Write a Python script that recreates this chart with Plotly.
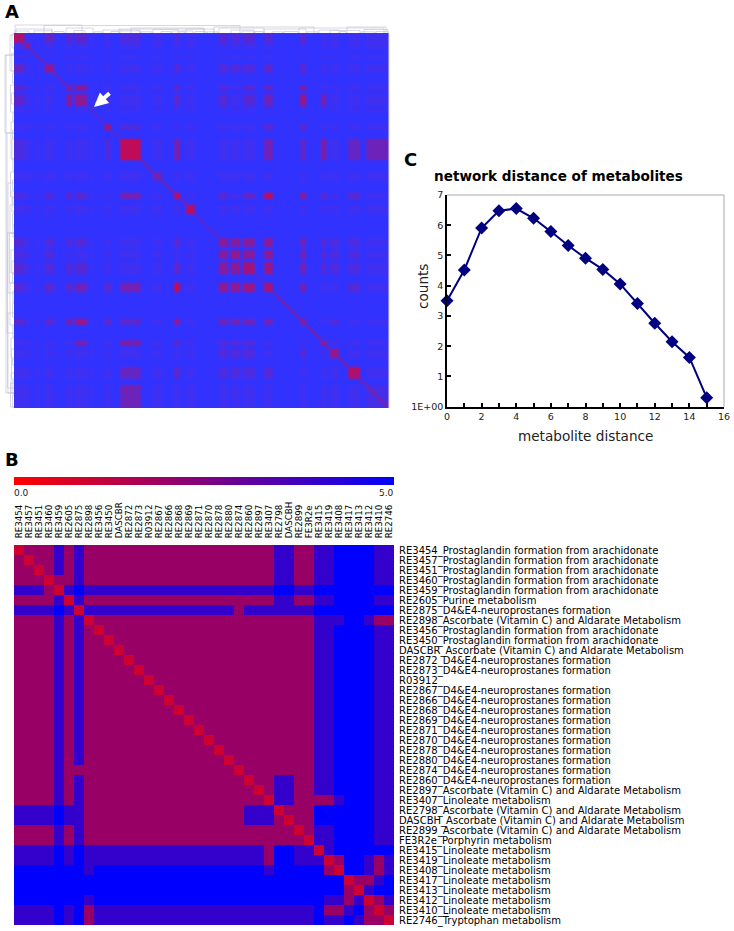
import plotly.graph_objects as go

W, H = 734, 931
FONT = "DejaVu Sans"

def fx(p): return p / W
def fy(p): return 1 - p / H

# ---------- Panel B ----------
b_names = ["RE3454","RE3457","RE3451","RE3460","RE3459","RE2605","RE2875","RE2898","RE3456","RE3450",
           "DASCBR","RE2872","RE2873","R03912","RE2867","RE2866","RE2868","RE2869","RE2871","RE2870",
           "RE2878","RE2880","RE2874","RE2860","RE2897","RE3407","RE2798","DASCBH","RE2899","FE3R2e",
           "RE3415","RE3419","RE3408","RE3417","RE3413","RE3412","RE3410","RE2746"]
PG = "Prostaglandin formation from arachidonate"
NP = "D4&E4-neuroprostanes formation"
AS = "Ascorbate (Vitamin C) and Aldarate Metabolism"
LI = "Linoleate metabolism"
b_pathways = [PG,PG,PG,PG,PG,"Purine metabolism",NP,AS,PG,PG,AS,NP,NP,"",NP,NP,NP,NP,NP,NP,NP,NP,NP,NP,
              AS,LI,AS,AS,AS,"Porphyrin metabolism",LI,LI,LI,LI,LI,LI,LI,"Tryptophan metabolism"]
# distance classes per cell; groups: 0-3 | 4 5 6 | 7-25 | 26-27 | 28-29 | 30-31 | 32-35 | 36-37
b_rows = [
 "1222 424 2222222222222222222 44 22 44 5555 44",
 "2122 424 2222222222222222222 44 22 44 5555 44",
 "2212 424 2222222222222222222 44 22 44 5555 44",
 "2221 224 2222222222222222222 44 22 44 5555 44",
 "4442 145 4444444444444444444 55 44 55 5555 55",
 "2222 414 2222222222222222222 44 22 44 5555 44",
 "4444 541 4444444444444442444 44 44 55 5555 55",
 "2222 424 1222222222222222222 22 22 44 4554 22",
 "2222 424 2122222222222222222 22 22 44 5555 44",
 "2222 424 2212222222222222222 22 22 44 5555 44",
 "2222 424 2221222222222222222 22 22 44 5555 44",
 "2222 424 2222122222222222222 22 22 44 5555 44",
 "2222 424 2222212222222222222 22 22 44 5555 44",
 "2222 424 2222221222222222222 22 22 44 5555 44",
 "2222 424 2222222122222222222 22 22 44 5555 44",
 "2222 424 2222222212222222222 22 22 44 5555 44",
 "2222 424 2222222221222222222 22 22 44 5555 44",
 "2222 424 2222222222122222222 22 22 44 5555 44",
 "2222 424 2222222222212222222 22 22 44 5555 44",
 "2222 424 2222222222221222222 22 22 44 5555 44",
 "2222 424 2222222222222122222 22 22 44 5555 44",
 "2222 424 2222222222222212222 22 22 44 5555 44",
 "2222 422 2222222222222221222 22 22 44 5555 44",
 "2222 424 2222222222222222122 44 22 44 5555 44",
 "2222 424 2222222222222222212 44 22 44 5555 44",
 "2222 424 2222222222222222221 44 22 22 4555 44",
 "4444 544 2222222222222222444 12 22 55 5555 44",
 "4444 544 2222222222222222444 21 22 55 5555 44",
 "2222 424 2222222222222222222 22 12 44 5555 44",
 "2222 424 2222222222222222222 22 21 44 5555 44",
 "4444 545 4444444444444444442 55 44 14 5555 55",
 "4444 545 4444444444444444442 55 44 41 2554 24",
 "5555 555 4555555555555555554 55 55 52 1554 24",
 "5555 555 5555555555555555555 55 55 55 5122 45",
 "5555 555 5555555555555555555 55 55 55 5214 55",
 "5555 555 4555555555555555555 55 55 54 4241 24",
 "4444 545 2444444444444444444 44 44 52 2452 12",
 "4444 545 2444444444444444444 44 44 54 4542 21",
]
b_z = [[int(c) for c in r.replace(" ", "")] for r in b_rows]
b_labels = [n + "_" + p for n, p in zip(b_names, b_pathways)]
scale_values = [0, 5]

# ---------- Panel C ----------
c_x = list(range(16))
c_y = [3.5, 4.52, 5.91, 6.48, 6.55, 6.23, 5.79, 5.33, 4.91, 4.54, 4.06, 3.41, 2.76, 2.15, 1.63, 0.30]
c_ticks_x = list(range(17))
c_text_x = [str(v) if v % 2 == 0 else "" for v in c_ticks_x]
c_ticks_y = [0, 1, 2, 3, 4, 5, 6, 7]
c_text_y = ["1E+00", "1", "2", "3", "4", "5", "6", "7"]

# ---------- Panel A ----------
a_cell = 3
a_n = 125
band_start = [0, 10, 20, 31, 51, 60, 75, 89, 106, 139, 158, 172, 205, 217, 228, 250, 285, 305, 316, 333, 350]
band_end   = [9, 15, 23, 38, 58, 71, 79, 96, 126, 146, 164, 179, 214, 225, 240, 257, 292, 313, 325, 346, 374]
band_self  = [.75, .55, .45, .55, .45, .55, .25, .7, .85, .35, .85, .8, .52, .58, .68, .7, .5, .5, .6, .75, .12]
pair_a = [12,12,13,12,13,14,12,13,14,12,13,14,12,13,14,12,13,14,12,13,14,12,13,14,
          4,5,4,5,4,5,4,5,4,5,4,5,0,0,0,0,8,8,8,8,8,8,
          10,10,10,10,10,0,3,5,0,3,4,5,7,7,17,0,0,7,3,18,19,19,15]
pair_b = [13,14,14,15,15,15,16,16,16,17,17,17,18,18,18,19,19,19,0,0,0,3,3,3,
          5,5,12,12,14,14,16,16,10,10,15,15,3,4,5,13,10,15,16,17,19,20,
          15,16,12,14,17,15,15,15,16,16,16,16,16,15,5,8,10,8,10,16,10,15,16]
pair_v = [.5,.5,.52,.55,.55,.62,.36,.36,.36,.18,.18,.18,.18,.18,.18,.16,.16,.16,.22,.22,.22,.18,.18,.18,
          .48,.52,.18,.2,.2,.22,.38,.44,.25,.25,.25,.35,.3,.22,.26,.16,.4,.38,.25,.42,.3,.36,
          .85,.55,.25,.27,.25,.2,.25,.35,.25,.25,.42,.62,.3,.25,.35,.16,.16,.16,.2,.2,.25,.2,.38]
band_haze = .07
diag_start = [0, 50, 120, 180, 260, 300]
diag_end   = [50, 120, 180, 260, 300, 375]
diag_value = [.35, .2, .42, .25, .5, .5]

top_start  = [1, 30, 105, 117, 200, 205, 285, 333, 2, 52, 89, 139, 172, 217, 250, 305, 350, 1, 20, 60, 106, 158, 228, 316,
              40, 80, 97, 127, 147, 165, 181, 193, 241, 258, 270, 293, 326, 347, 362]
top_end    = [68, 226, 190, 190, 300, 250, 370, 372, 38, 79, 126, 164, 200, 240, 292, 325, 374, 15, 38, 71, 126, 179, 240, 346,
              50, 88, 105, 138, 157, 171, 192, 204, 249, 269, 284, 304, 332, 361, 374]
top_height = [8, 7.5, 4, 5, 6, 5, 5, 6, 4, 5, 3, 3.5, 4, 3, 4, 3, 3.5, 2, 2.2, 2.5, 2, 2, 2, 2.5,
              1.5, 1.2, 1.5, 1.2, 1.5, 1.2, 1.5, 1.2, 1.5, 1.2, 1.5, 1.2, 1.5, 1.2, 1.5]
left_start  = [22, 22, 100, 150, 200, 280, 2, 52, 89, 139, 172, 217, 250, 305, 350, 1, 20, 60, 106, 158, 228, 316, 200, 340,
               40, 80, 97, 127, 147, 165, 181, 193, 241, 258, 270, 293, 326, 347, 362]
left_end    = [100, 360, 300, 260, 355, 360, 38, 79, 126, 164, 200, 240, 292, 325, 374, 15, 38, 71, 126, 179, 240, 346, 250, 360,
               50, 88, 105, 138, 157, 171, 192, 204, 249, 269, 284, 304, 332, 361, 374]
left_height = [9, 8, 7, 6, 6.5, 6, 4, 3.5, 3, 3.5, 4, 3, 4, 3, 3.5, 2, 2.2, 2.5, 2, 2, 2, 2.5, 4.5, 3,
               1.5, 1.2, 1.5, 1.2, 1.5, 1.2, 1.5, 1.2, 1.5, 1.2, 1.5, 1.2, 1.5, 1.2, 1.5]

def band_of(t):
    for k, (s, e) in enumerate(zip(band_start, band_end)):
        if s <= t <= e:
            return k
    return None

pairs = {}
for a, b, v in zip(pair_a, pair_b, pair_v):
    pairs[(a, b)] = v
    pairs[(b, a)] = v

a_pos = [a_cell * i + a_cell / 2 for i in range(a_n)]
a_band = [band_of(t) for t in a_pos]
a_z = []
for i, bi in enumerate(a_band):
    row = []
    for j, bj in enumerate(a_band):
        v = 0.0
        if bi is not None and bj is not None:
            v = band_self[bi] if bi == bj else pairs.get((bi, bj), band_haze)
        if i == j:
            for s, e, d in zip(diag_start, diag_end, diag_value):
                if s <= a_pos[i] < e:
                    v = max(v, d)
        row.append(v)
    a_z.append(row)

dendro_line = dict(color="#c6c6d8", width=0.7)
tx, ty, lx, ly = [], [], [], []
for s, e, h in zip(top_start, top_end, top_height):
    tx += [s, s, e, e, None]
    ty += [0, -h, -h, 0, None]
for s, e, h in zip(left_start, left_end, left_height):
    ly += [s, s, e, e, None]
    lx += [0, -h, -h, 0, None]

fig = go.Figure()
RED_BLUE = [[0, "rgb(255,0,0)"], [1, "rgb(0,0,255)"]]

fig.add_trace(go.Heatmap(z=a_z, x=a_pos, y=a_pos, xaxis="x", yaxis="y", zmin=0, zmax=1, zsmooth="best",
                         colorscale=[[0, "rgb(50,50,255)"], [1, "rgb(215,5,60)"]], showscale=False))
fig.add_trace(go.Scatter(x=tx, y=ty, mode="lines", line=dendro_line, xaxis="x", yaxis="y", showlegend=False))
fig.add_trace(go.Scatter(x=lx, y=ly, mode="lines", line=dendro_line, xaxis="x", yaxis="y", showlegend=False))

fig.add_trace(go.Heatmap(z=b_z, x=list(range(38)), y=list(range(38)), xaxis="x2", yaxis="y2", zmin=0, zmax=5,
                         colorscale=RED_BLUE, showscale=False))

fig.add_trace(go.Heatmap(z=[scale_values, scale_values], x=scale_values, y=[0, 1], xaxis="x4", yaxis="y4",
                         zmin=0, zmax=5, zsmooth="best", colorscale=RED_BLUE, showscale=False))

fig.add_trace(go.Scatter(x=c_x, y=c_y, mode="lines+markers", xaxis="x3", yaxis="y3", showlegend=False,
                         line=dict(color="#000080", width=2),
                         marker=dict(symbol="diamond", size=10, color="#000080"), cliponaxis=False))

axis_off = dict(showgrid=False, zeroline=False, showticklabels=False, ticks="", showline=False)
TEXT = "#222222"
def note(text, x, y, size, xanchor="left", color="black", angle=0):
    return dict(text=text, xref="paper", yref="paper", x=fx(x), y=fy(y), xanchor=xanchor, yanchor="middle",
                showarrow=False, textangle=angle, borderpad=0, borderwidth=0,
                font=dict(size=size, family=FONT, color=color))

fig.update_layout(
    width=W, height=H, margin=dict(l=0, r=0, t=0, b=0, pad=0, autoexpand=False), autosize=False,
    paper_bgcolor="white", plot_bgcolor="white", font=dict(family=FONT, color="black"),
    showlegend=False,
    xaxis=dict(domain=[fx(4), fx(389)], range=[-10, 375], anchor="y", **axis_off),
    yaxis=dict(domain=[fy(408), fy(24)], range=[375, -9], anchor="x", **axis_off),
    xaxis2=dict(domain=[fx(14), fx(394)], range=[-0.5, 37.5], anchor="y2", side="top", showgrid=False, zeroline=False,
                tickmode="array", tickvals=list(range(38)), ticktext=b_names, tickangle=-90,
                tickfont=dict(size=8.7, family=FONT, color="black"), ticks="outside", ticklen=4, tickcolor="white"),
    yaxis2=dict(domain=[fy(925), fy(545)], range=[37.5, -0.5], anchor="x2", side="right", showgrid=False, zeroline=False,
                tickmode="array", tickvals=list(range(38)), ticktext=b_labels,
                tickfont=dict(size=10, family=FONT, color="black"), ticks="outside", ticklen=2, tickcolor="white"),
    xaxis4=dict(domain=[fx(14), fx(394)], range=[0, 5], anchor="y4", **axis_off),
    yaxis4=dict(domain=[fy(485), fy(477)], range=[0, 1], anchor="x4", **axis_off),
    xaxis3=dict(domain=[fx(447), fx(724)], range=[0, 16], anchor="y3", showgrid=False, zeroline=False,
                tickmode="array", tickvals=c_ticks_x, ticktext=c_text_x, ticks="inside", ticklen=4, tickwidth=1.5,
                tickcolor="black", tickfont=dict(size=9.5, family=FONT, color=TEXT),
                showline=True, linecolor="black", linewidth=1.5),
    yaxis3=dict(domain=[fy(406.7), fy(195)], range=[0, 7], anchor="x3", showgrid=False, zeroline=False,
                tickmode="array", tickvals=c_ticks_y, ticktext=c_text_y, ticks="inside", ticklen=4, tickwidth=1.5,
                tickcolor="black", tickfont=dict(size=9.5, family=FONT, color=TEXT),
                showline=True, linecolor="black", linewidth=1.5),
    shapes=[
        dict(type="line", xref="paper", yref="paper", x0=fx(447), x1=fx(724), y0=fy(195), y1=fy(195),
             line=dict(color="#aaaaaa", width=1)),
        dict(type="line", xref="paper", yref="paper", x0=fx(724), x1=fx(724), y0=fy(195), y1=fy(406.7),
             line=dict(color="#aaaaaa", width=1)),
        dict(type="line", xref="paper", yref="paper", x0=fx(389), x1=fx(389), y0=fy(33), y1=fy(408),
             line=dict(color="#d8d8e8", width=1)),
    ],
    annotations=[
        note("<b>A</b>", 5, 12, 18),
        note("<b>B</b>", 5, 459, 18),
        note("<b>C</b>", 404, 160, 18),
        note("<b>network distance of metabolites</b>", 434, 176, 13.6),
        note("0.0", 14, 493, 9, color=TEXT),
        note("5.0", 394, 493, 9, "right", color=TEXT),
        note("metabolite distance", 585, 436, 13.6, "center", color=TEXT),
        note("counts", 423, 287, 13.6, "center", color=TEXT, angle=-90),
        dict(text="", x=80, y=74, xref="x", yref="y", axref="pixel", ayref="pixel", ax=17, ay=-15,
             showarrow=True, arrowhead=2, arrowsize=0.7, arrowwidth=4, arrowcolor="white"),
    ],
)
fig.write_html("out.html", config=dict(displayModeBar=False),
               post_script="document.body.style.margin='0';document.body.style.overflow='hidden';")
